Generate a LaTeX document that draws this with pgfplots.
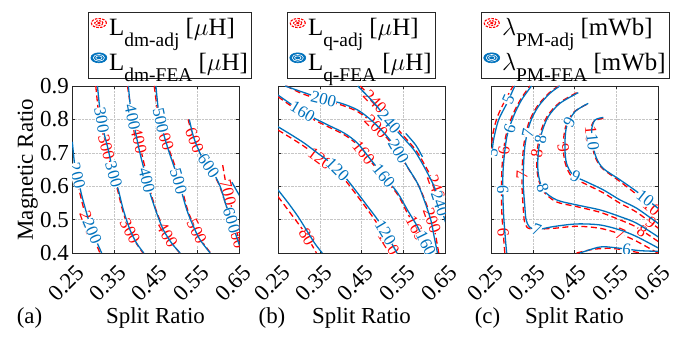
\documentclass[border=0pt]{standalone}
\usepackage{fontspec}
\setmainfont{Liberation Serif}
\usepackage{pgfplots}
\pgfplotsset{compat=1.18}
\definecolor{mblue}{rgb}{0,0.447,0.741}
\definecolor{axgray}{rgb}{0.15,0.15,0.15}
\newcommand{\sub}[1]{\raisebox{-0.42em}{\fontsize{19.5}{19.5}\selectfont #1}}
\newcommand{\adjicon}{%
 \draw[red, line width=1.1bp, dash pattern=on 2.5bp off 1.2bp] (9bp,5bp) ellipse (7.5bp and 4.5bp);
 \draw[red, line width=1.1bp, dash pattern=on 2bp off 1bp] (9bp,5bp) ellipse (4.2bp and 2.4bp);
 \fill[red] (9bp,5bp) ellipse (1.4bp and 0.8bp);}
\newcommand{\feaicon}{%
 \fill[mblue] (9bp,5bp) ellipse (8bp and 5bp);
 \draw[white, line width=0.6bp] (9bp,5bp) ellipse (5.6bp and 3.4bp);
 \draw[white, line width=0.6bp] (9bp,5bp) ellipse (3.2bp and 1.9bp);}
\tikzset{
 adj/.style={color=red, line width=1.3bp, dash pattern=on 6bp off 3.5bp, smooth, tension=0.5},
 fea/.style={color=mblue, line width=1.3bp, smooth, tension=0.5},
 lb/.style={sloped, font=\fontsize{17}{17}\selectfont, fill=white, inner sep=0.3bp},
}
\pgfplotsset{
 myax/.style={
  scale only axis, width=167bp, height=167bp,
  xmin=0.25, xmax=0.65, ymin=0.4, ymax=0.9,
  xtick={0.25,0.35,0.45,0.55,0.65},
  xticklabels={0.25,0.35,0.45,0.55,0.65},
  ytick={0.4,0.5,0.6,0.7,0.8,0.9},
  font=\fontsize{23}{27}\selectfont,
  grid=major, grid style={densely dotted, gray!45, line width=0.4bp},
  tick align=inside, major tick length=3bp,
  axis line style={line width=0.6bp, axgray}, tick style={axgray, line width=0.5bp},
  xticklabel style={xshift=-6bp, yshift=-30bp, rotate=45, anchor=center},
  yticklabel style={inner sep=1bp, xshift=-2bp},
  xlabel={Split Ratio},
  xlabel style={at={(axis description cs:0.5,-0.389)}, anchor=center},
  legend style={draw=axgray, line width=0.6bp, font=\fontsize{25}{29}\selectfont,
    anchor=south, legend cell align=left, inner xsep=2bp, inner ysep=4bp, row sep=12bp,
    /tikz/every even column/.append style={column sep=0pt}},
 }
}
\begin{document}
\begin{tikzpicture}[x=1bp,y=1bp]
\useasboundingbox (0,0) rectangle (692,341);
% ---------------- (a)
\begin{axis}[myax, at={(72bp,88bp)}, anchor=south west,
  yticklabels={0.4,0.5,0.6,0.7,0.8,0.9},
  ylabel={Magnetic Ratio},
  ylabel style={at={(axis description cs:-0.265,0.5)}, anchor=center},
  legend style={at={(axis description cs:0.588,1.045)}},
  extra description/.code={\node at (-0.254,-0.389) {(a)};}]
\addlegendimage{legend image code/.code={\adjicon}}
\addlegendentry{L\sub{dm-adj} [$\mu$H]}
\addlegendimage{legend image code/.code={\feaicon}}
\addlegendentry{L\sub{dm-FEA} [$\mu$H]}
% red
\addplot[adj, forget plot] coordinates {(0.2516,0.663)(0.265,0.599)(0.281,0.519)(0.301,0.449)(0.317,0.40)} node[lb,text=red,pos=0.66]{200};
\addplot[adj, forget plot] coordinates {(0.307,0.9)(0.313,0.828)(0.322,0.768)(0.334,0.708)(0.347,0.639)(0.359,0.589)(0.371,0.529)(0.387,0.469)(0.404,0.429)(0.42,0.40)} node[lb,text=red,pos=0.36]{300} node[lb,text=red,pos=0.86]{300};
\addplot[adj, forget plot] coordinates {(0.383,0.9)(0.392,0.828)(0.404,0.768)(0.417,0.698)(0.428,0.639)(0.439,0.579)(0.454,0.519)(0.471,0.469)(0.49,0.429)(0.508,0.40)} node[lb,text=red,pos=0.32]{400} node[lb,text=red,pos=0.88]{400};
\addplot[adj, forget plot] coordinates {(0.447,0.9)(0.455,0.828)(0.467,0.768)(0.483,0.708)(0.5,0.649)(0.512,0.599)(0.527,0.529)(0.543,0.479)(0.559,0.439)(0.582,0.40)} node[lb,text=red,pos=0.3]{500} node[lb,text=red,pos=0.86]{500};
\addplot[adj, forget plot] coordinates {(0.528,0.80)(0.54,0.748)(0.556,0.698)(0.572,0.668)(0.588,0.639)(0.604,0.599)(0.62,0.539)(0.633,0.499)(0.645,0.449)(0.652,0.42)} node[lb,text=red,pos=0.16]{600} node[lb,text=red,pos=0.92]{600};
\addplot[adj, forget plot] coordinates {(0.611,0.663)(0.620,0.599)(0.632,0.539)(0.644,0.469)(0.652,0.429)} node[lb,text=red,pos=0.35]{700};
% blue
\addplot[fea, forget plot] coordinates {(0.2508,0.733)(0.257,0.658)(0.265,0.619)(0.273,0.574)(0.285,0.519)(0.297,0.469)(0.309,0.434)(0.321,0.40)} node[lb,text=mblue,pos=0.3]{200} node[lb,text=mblue,pos=0.8]{200};
\addplot[fea, forget plot] coordinates {(0.311,0.9)(0.317,0.828)(0.325,0.768)(0.337,0.708)(0.349,0.639)(0.361,0.589)(0.373,0.529)(0.389,0.469)(0.405,0.429)(0.422,0.40)} node[lb,text=mblue,pos=0.2]{300} node[lb,text=mblue,pos=0.52]{300};
\addplot[fea, forget plot] coordinates {(0.385,0.9)(0.391,0.828)(0.401,0.768)(0.413,0.698)(0.425,0.639)(0.437,0.579)(0.453,0.519)(0.469,0.469)(0.489,0.429)(0.509,0.40)} node[lb,text=mblue,pos=0.18]{400} node[lb,text=mblue,pos=0.55]{400};
\addplot[fea, forget plot] coordinates {(0.451,0.9)(0.457,0.828)(0.467,0.768)(0.481,0.708)(0.497,0.649)(0.509,0.599)(0.525,0.529)(0.541,0.479)(0.557,0.439)(0.581,0.40)} node[lb,text=mblue,pos=0.2]{500} node[lb,text=mblue,pos=0.56]{500};
\addplot[fea, forget plot] coordinates {(0.531,0.80)(0.541,0.748)(0.557,0.698)(0.573,0.668)(0.589,0.639)(0.605,0.599)(0.62,0.539)(0.632,0.499)(0.644,0.449)(0.652,0.42)} node[lb,text=mblue,pos=0.37]{600} node[lb,text=mblue,pos=0.8]{600};
\addplot[fea, forget plot] coordinates {(0.633,0.612)(0.652,0.570)};
\end{axis}
% ---------------- (b)
\begin{axis}[myax, at={(278bp,88bp)}, anchor=south west,
  yticklabels={},
  legend style={at={(axis description cs:0.5,1.045)}},
  extra description/.code={\node at (-0.036,-0.389) {(b)};}]
\addlegendimage{legend image code/.code={\adjicon}}
\addlegendentry{L\sub{q-adj} [$\mu$H]}
\addlegendimage{legend image code/.code={\feaicon}}
\addlegendentry{L\sub{q-FEA} [$\mu$H]}
% red
\addplot[adj, forget plot] coordinates {(0.25,0.569)(0.271,0.534)(0.295,0.494)(0.315,0.459)(0.342,0.40)} node[lb,text=red,pos=0.72]{80};
\addplot[adj, forget plot] coordinates {(0.25,0.768)(0.283,0.743)(0.314,0.718)(0.346,0.688)(0.378,0.658)(0.41,0.619)(0.441,0.569)(0.465,0.529)(0.487,0.489)(0.51,0.439)(0.53,0.40)} node[lb,text=red,pos=0.28]{120} node[lb,text=red,pos=0.93]{120};
\addplot[adj, forget plot] coordinates {(0.25,0.868)(0.29,0.833)(0.33,0.803)(0.37,0.778)(0.41,0.753)(0.441,0.723)(0.473,0.673)(0.505,0.624)(0.537,0.574)(0.558,0.524)(0.58,0.474)(0.603,0.419)(0.61,0.40)} node[lb,text=red,pos=0.44]{160} node[lb,text=red,pos=0.87]{160};
\addplot[adj, forget plot] coordinates {(0.27,0.9)(0.306,0.878)(0.354,0.858)(0.402,0.843)(0.441,0.823)(0.473,0.793)(0.505,0.753)(0.537,0.703)(0.562,0.653)(0.586,0.604)(0.603,0.554)(0.62,0.494)(0.628,0.449)(0.635,0.40)} node[lb,text=red,pos=0.38]{200} node[lb,text=red,pos=0.85]{200};
\addplot[adj, forget plot] coordinates {(0.447,0.9)(0.487,0.848)(0.519,0.798)(0.549,0.753)(0.58,0.708)(0.604,0.658)(0.628,0.599)(0.645,0.539)(0.652,0.51)} node[lb,text=red,pos=0.13]{240} node[lb,text=red,pos=0.8]{240};
% blue
\addplot[fea, forget plot] coordinates {(0.25,0.589)(0.275,0.549)(0.298,0.509)(0.318,0.469)(0.338,0.429)(0.356,0.40)};
\addplot[fea, forget plot] coordinates {(0.25,0.778)(0.283,0.753)(0.314,0.728)(0.346,0.698)(0.378,0.668)(0.41,0.628)(0.441,0.579)(0.465,0.539)(0.489,0.499)(0.513,0.449)(0.535,0.40)} node[lb,text=mblue,pos=0.4]{120} node[lb,text=mblue,pos=0.86]{120};
\addplot[fea, forget plot] coordinates {(0.25,0.873)(0.29,0.838)(0.33,0.808)(0.37,0.783)(0.41,0.758)(0.441,0.728)(0.473,0.678)(0.505,0.629)(0.537,0.579)(0.56,0.529)(0.584,0.479)(0.608,0.419)(0.616,0.40)} node[lb,text=mblue,pos=0.125]{160} node[lb,text=mblue,pos=0.58]{160} node[lb,text=mblue,pos=0.95]{160};
\addplot[fea, forget plot] coordinates {(0.267,0.9)(0.306,0.883)(0.354,0.863)(0.402,0.848)(0.441,0.828)(0.473,0.798)(0.505,0.758)(0.537,0.708)(0.56,0.658)(0.584,0.609)(0.6,0.559)(0.616,0.499)(0.624,0.449)(0.632,0.40)} node[lb,text=mblue,pos=0.15]{200} node[lb,text=mblue,pos=0.52]{200};
\addplot[fea, forget plot] coordinates {(0.441,0.9)(0.481,0.848)(0.513,0.798)(0.544,0.753)(0.576,0.708)(0.6,0.658)(0.624,0.599)(0.64,0.539)(0.652,0.489)} node[lb,text=mblue,pos=0.28]{240} node[lb,text=mblue,pos=0.87]{240};
\addplot[fea, forget plot] coordinates {(0.556,0.758)(0.58,0.723)(0.596,0.688)};
\end{axis}
% ---------------- (c)
\begin{axis}[myax, at={(491bp,88bp)}, anchor=south west,
  yticklabels={},
  legend style={at={(axis description cs:0.506,1.045)}},
  extra description/.code={\node at (-0.021,-0.389) {(c)};}]
\addlegendimage{legend image code/.code={\adjicon}}
\addlegendentry{$\lambda$\sub{PM-adj} [mWb]}
\addlegendimage{legend image code/.code={\feaicon}}
\addlegendentry{$\lambda$\sub{PM-FEA} [mWb]}
% red
\addplot[adj, forget plot] coordinates {(0.25,0.70)(0.255,0.76)(0.266,0.81)(0.285,0.86)(0.303,0.9)};
\addplot[adj, forget plot] coordinates {(0.283,0.40)(0.28,0.449)(0.276,0.519)(0.275,0.599)(0.277,0.668)(0.285,0.748)(0.3,0.808)(0.32,0.858)(0.343,0.9)} node[lb,text=red,pos=0.12]{6} node[lb,text=red,pos=0.6]{6};
\addplot[adj, forget plot] coordinates {(0.412,0.9)(0.388,0.878)(0.36,0.838)(0.34,0.788)(0.328,0.718)(0.324,0.619)(0.327,0.539)(0.331,0.49)(0.345,0.472)(0.40,0.474)(0.455,0.48)(0.511,0.474)(0.559,0.457)(0.599,0.435)(0.652,0.398)} node[lb,text=red,pos=0.37]{7} node[lb,text=red,pos=0.86]{7};
\addplot[adj, forget plot] coordinates {(0.455,0.88)(0.412,0.848)(0.384,0.808)(0.368,0.758)(0.36,0.698)(0.361,0.639)(0.373,0.589)(0.405,0.554)(0.455,0.539)(0.511,0.522)(0.559,0.499)(0.599,0.477)(0.652,0.433)} node[lb,text=red,pos=0.33]{8} node[lb,text=red,pos=0.92]{8};
\addplot[adj, forget plot] coordinates {(0.479,0.845)(0.447,0.82)(0.428,0.775)(0.423,0.718)(0.428,0.668)(0.444,0.628)(0.479,0.605)(0.519,0.58)(0.559,0.549)(0.599,0.522)(0.652,0.473)} node[lb,text=red,pos=0.3]{9} node[lb,text=red,pos=0.95]{9};
\addplot[adj, forget plot] coordinates {(0.519,0.803)(0.497,0.795)(0.489,0.768)(0.493,0.718)(0.501,0.683)(0.517,0.653)(0.559,0.614)(0.599,0.575)(0.652,0.518)} node[lb,text=red,pos=0.18]{10} node[lb,text=red,pos=0.93]{10};
\addplot[adj, forget plot] coordinates {(0.455,0.40)(0.495,0.411)(0.535,0.414)(0.575,0.408)(0.607,0.40)};
% blue
\addplot[fea, forget plot] coordinates {(0.2516,0.688)(0.256,0.738)(0.268,0.798)(0.288,0.848)(0.307,0.9)} node[lb,text=mblue,pos=0.05]{5} node[lb,text=mblue,pos=0.8]{5};
\addplot[fea, forget plot] coordinates {(0.2875,0.40)(0.284,0.449)(0.28,0.519)(0.278,0.599)(0.28,0.668)(0.288,0.748)(0.3035,0.808)(0.323,0.858)(0.347,0.9)} node[lb,text=mblue,pos=0.37]{6} node[lb,text=mblue,pos=0.73]{6};
\addplot[fea, forget plot] coordinates {(0.415,0.9)(0.391,0.878)(0.363,0.838)(0.343,0.788)(0.331,0.718)(0.327,0.619)(0.331,0.539)(0.334,0.50)(0.342,0.478)(0.36,0.47)(0.399,0.479)(0.455,0.487)(0.511,0.484)(0.559,0.469)(0.599,0.449)(0.652,0.414)} node[lb,text=mblue,pos=0.21]{7} node[lb,text=mblue,pos=0.6]{7};
\addplot[fea, forget plot] coordinates {(0.459,0.88)(0.415,0.848)(0.387,0.808)(0.371,0.758)(0.363,0.698)(0.363,0.639)(0.375,0.589)(0.407,0.559)(0.455,0.544)(0.511,0.529)(0.559,0.509)(0.599,0.489)(0.652,0.447)} node[lb,text=mblue,pos=0.27]{8} node[lb,text=mblue,pos=0.5]{8};
\addplot[fea, forget plot] coordinates {(0.483,0.848)(0.451,0.823)(0.431,0.778)(0.427,0.718)(0.431,0.668)(0.447,0.633)(0.479,0.613)(0.519,0.589)(0.559,0.559)(0.599,0.534)(0.652,0.487)} node[lb,text=mblue,pos=0.15]{9} node[lb,text=mblue,pos=0.5]{9};
\addplot[fea, forget plot] coordinates {(0.519,0.806)(0.499,0.798)(0.491,0.768)(0.495,0.718)(0.503,0.683)(0.519,0.653)(0.559,0.619)(0.599,0.584)(0.652,0.532)} node[lb,text=mblue,pos=0.25]{10} node[lb,text=mblue,pos=0.87]{10};
\addplot[fea, forget plot] coordinates {(0.463,0.40)(0.495,0.413)(0.518,0.419)(0.56,0.414)(0.607,0.407)(0.652,0.405)} node[lb,text=mblue,pos=0.6]{6};
\end{axis}
\end{tikzpicture}
\end{document}
